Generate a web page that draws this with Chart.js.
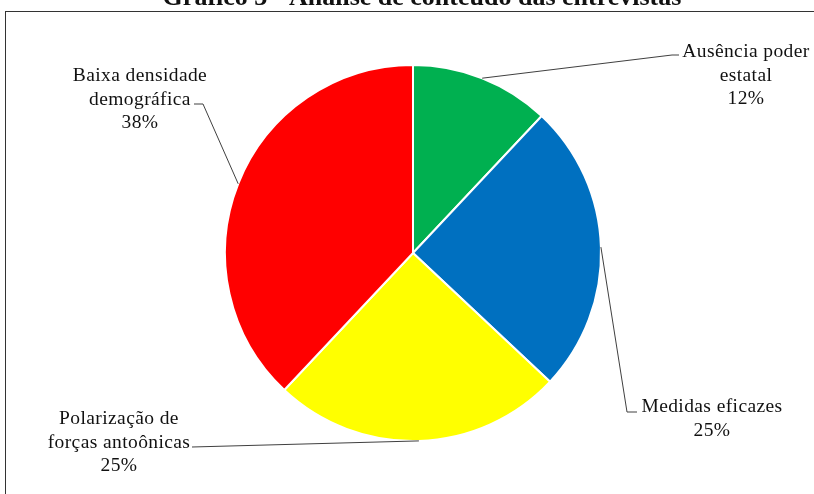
<!DOCTYPE html>
<html>
<head>
<meta charset="utf-8">
<script src="https://cdn.jsdelivr.net/npm/chart.js@4"></script>
<style>
  html, body { margin: 0; padding: 0; background: #fff; overflow: hidden; }
  canvas { display: block; }
</style>
</head>
<body>
<canvas id="myChart" width="814" height="494"></canvas>
<script>
const chartTitle = "Gráfico 3 - Análise de conteúdo das entrevistas";
const categories = ["Ausência poder estatal", "Medidas eficazes", "Polarização de forças antoônicas", "Baixa densidade demográfica"];
const labelLines = [["Ausência poder", "estatal"], ["Medidas eficazes"], ["Polarização de", "forças antoônicas"], ["Baixa densidade", "demográfica"]];
const shares = [12, 25, 25, 38];
const sliceColors = ["#00B050", "#0070C0", "#FFFF00", "#FF0000"];

// where each data label sits and the bend points of its leader line
const labelLayout = [
    { x: 746, y: 52, path: [[672, 55], [679, 55]] },
    { x: 712, y: 407, path: [[627, 412], [637, 412]] },
    { x: 119, y: 419, path: [[192, 447]] },
    { x: 140, y: 76, path: [[203, 104], [194, 104]] }
];

const serif = '"Liberation Serif", "Times New Roman", serif';

const framePlugin = {
    id: 'frame',
    beforeDraw(chart) {
        const ctx = chart.ctx;
        ctx.save();
        ctx.fillStyle = '#fff';
        ctx.fillRect(0, 0, chart.width, chart.height);
        ctx.strokeStyle = '#333';
        ctx.lineWidth = 1;
        ctx.strokeRect(5.5, 11.5, 900, 600);
        ctx.fillStyle = '#111';
        ctx.font = 'bold 26px ' + serif;
        ctx.textAlign = 'center';
        ctx.textBaseline = 'alphabetic';
        ctx.fillText(chartTitle, 422, 5);
        ctx.restore();
    }
};

const pieLabels = {
    id: 'pieLabels',
    afterDraw(chart) {
        const ctx = chart.ctx;
        const arcs = chart.getDatasetMeta(0).data;
        ctx.save();
        arcs.forEach((arc, i) => {
            const p = arc.getProps(['x', 'y', 'startAngle', 'endAngle', 'outerRadius'], true);
            const mid = (p.startAngle + p.endAngle) / 2;
            const ax = p.x + Math.cos(mid) * p.outerRadius;
            const ay = p.y + Math.sin(mid) * p.outerRadius;
            const lay = labelLayout[i];

            ctx.strokeStyle = '#404040';
            ctx.lineWidth = 1;
            ctx.beginPath();
            ctx.moveTo(ax, ay);
            lay.path.forEach(pt => ctx.lineTo(pt[0], pt[1]));
            ctx.stroke();

            const lines = labelLines[i].concat([shares[i] + '%']);
            ctx.fillStyle = '#111';
            ctx.font = '19.5px ' + serif;
            ctx.letterSpacing = '0.4px';
            ctx.textAlign = 'center';
            ctx.textBaseline = 'middle';
            lines.forEach((t, k) => ctx.fillText(t, lay.x, lay.y + k * 23.5));
        });
        ctx.restore();
    }
};

let pieChart = new Chart(document.getElementById('myChart').getContext('2d'), {
    type: 'pie',
    data: {
        labels: categories,
        datasets: [{
            data: shares,
            backgroundColor: sliceColors,
            borderColor: '#fff',
            borderWidth: 2
        }]
    },
    options: {
        responsive: false,
        animation: false,
        layout: { padding: { left: 224, right: 212, top: 64, bottom: 52 } },
        plugins: {
            legend: { display: false },
            tooltip: { enabled: false }
        }
    },
    plugins: [framePlugin, pieLabels]
});
</script>
</body>
</html>
